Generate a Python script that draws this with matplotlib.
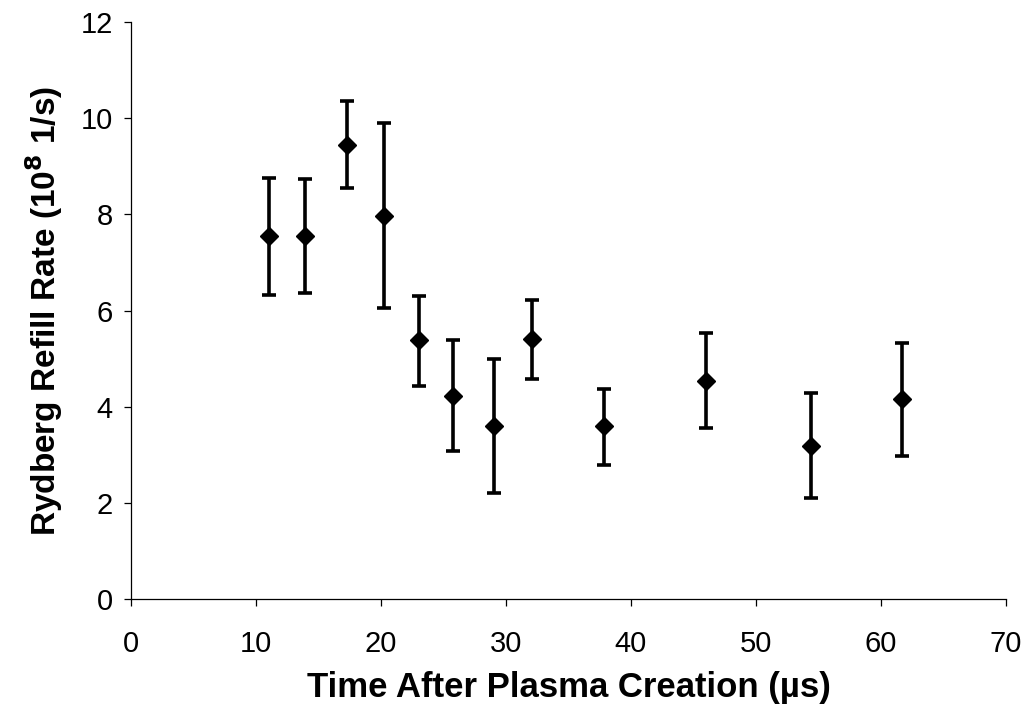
import matplotlib
matplotlib.use("Agg")
import matplotlib.pyplot as plt

plt.rcParams['font.family'] = ['Liberation Sans', 'DejaVu Sans']

# refill rate vs. delay after plasma creation
time_us = [11.06, 13.92, 17.26, 20.24, 23.06, 25.74, 29.04, 32.06, 37.84, 46.0, 54.4, 61.66]
rate = [7.55, 7.55, 9.45, 7.97, 5.38, 4.23, 3.60, 5.40, 3.59, 4.54, 3.19, 4.15]
err_low = [1.23, 1.19, 0.91, 1.92, 0.94, 1.16, 1.40, 0.82, 0.80, 0.98, 1.08, 1.17]
err_high = [1.21, 1.19, 0.90, 1.93, 0.93, 1.15, 1.39, 0.82, 0.78, 1.00, 1.09, 1.18]

x_ticks = [0, 10, 20, 30, 40, 50, 60, 70]
y_ticks = [0, 2, 4, 6, 8, 10, 12]

fig = plt.figure(figsize=(10.29, 7.11), dpi=100)
ax = fig.add_axes([0.1273, 0.1575, 0.8503, 0.8115])

ax.errorbar(time_us, rate, yerr=[err_low, err_high], fmt='D', color='black',
            ecolor='black', markersize=9.5, elinewidth=2.6, capsize=5,
            capthick=2.6)

ax.set_xlim(0, 70)
ax.set_ylim(0, 12)
ax.set_xticks(x_ticks)
ax.set_yticks(y_ticks)

for side in ('top', 'right'):
    ax.spines[side].set_visible(False)
for side in ('left', 'bottom'):
    ax.spines[side].set_linewidth(0.9)

ax.tick_params(direction='out', length=5, width=0.9, labelsize=21)
ax.tick_params(axis='y', pad=8)
ax.tick_params(axis='x', pad=17)

ax.set_xlabel('Time After Plasma Creation (µs)', fontsize=25, fontweight='bold', labelpad=10)
ax.set_ylabel('Rydberg Refill Rate (10$^{\\mathbf{8}}$ 1/s)', fontsize=24,
              fontweight='bold', labelpad=11)

fig.savefig('out.png', dpi=100, facecolor='white')
